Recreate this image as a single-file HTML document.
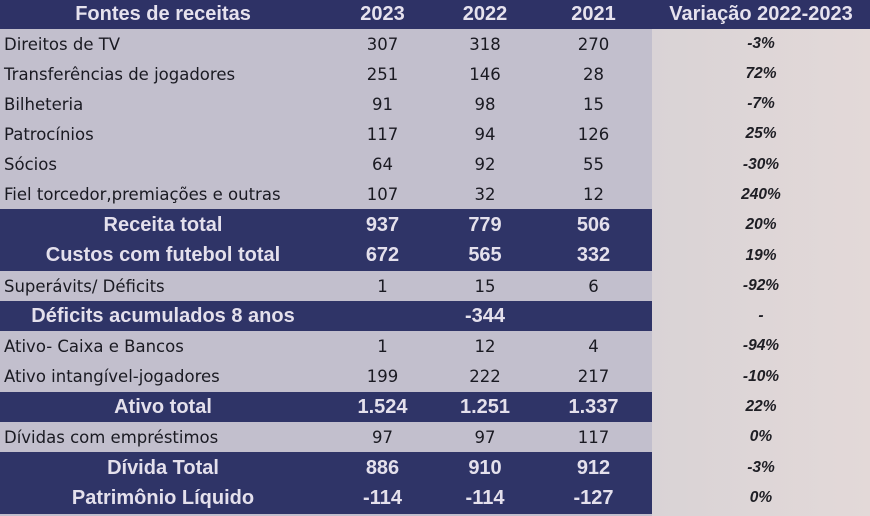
<!DOCTYPE html>
<html><head><meta charset="utf-8"><style>
*{margin:0;padding:0;box-sizing:border-box}
body{width:870px;height:516px;overflow:hidden;background:#c2bfcd;font-family:"Liberation Sans","DejaVu Sans",sans-serif;position:relative}
.r{position:absolute;left:0;width:652px;display:flex;align-items:center}
.hd{background:#2e3266;color:#e6e2ee;font-weight:bold;font-size:20px}
.lt{background:#c2bfcd;color:#1a1a22;font-size:16.5px;font-family:"DejaVu Sans",sans-serif}
.dk{background:#2f3467;color:#e4e0ec;font-weight:bold;font-size:20px}
.c0{width:330px}.c1{width:105px;text-align:center}.c2{width:100px;text-align:center}.c3{width:117px;text-align:center}
.lt .c0{padding-left:4px}
.dk .c0,.hd .c0{text-align:center;padding-right:4px}
#var{position:absolute;left:652px;top:29px;width:218px;height:487px;background:linear-gradient(90deg,#d9d3d6,#e3d9d8)}
.v{position:absolute;left:652px;width:218px;text-align:center;font-style:italic;font-weight:bold;font-size:15.5px;color:#1e1e24}
#vh{position:absolute;left:652px;top:0;width:218px;height:29px;background:#2e3266;color:#e6e2ee;font-weight:bold;font-size:20px;text-align:center;line-height:29px}
</style></head><body>
<div id="var"></div>
<div id="vh">Variação 2022-2023</div>
<div class="r hd" style="top:0;height:29px"><div class="c0">Fontes de receitas</div><div class="c1">2023</div><div class="c2">2022</div><div class="c3">2021</div></div>
<div class="r lt" style="top:29px;height:31px"><div class="c0">Direitos de TV</div><div class="c1">307</div><div class="c2">318</div><div class="c3">270</div></div>
<div class="r lt" style="top:59px;height:31px"><div class="c0">Transferências de jogadores</div><div class="c1">251</div><div class="c2">146</div><div class="c3">28</div></div>
<div class="r lt" style="top:89px;height:31px"><div class="c0">Bilheteria</div><div class="c1">91</div><div class="c2">98</div><div class="c3">15</div></div>
<div class="r lt" style="top:119px;height:31px"><div class="c0">Patrocínios</div><div class="c1">117</div><div class="c2">94</div><div class="c3">126</div></div>
<div class="r lt" style="top:149px;height:31px"><div class="c0">Sócios</div><div class="c1">64</div><div class="c2">92</div><div class="c3">55</div></div>
<div class="r lt" style="top:179px;height:31px"><div class="c0">Fiel torcedor,premiações e outras</div><div class="c1">107</div><div class="c2">32</div><div class="c3">12</div></div>
<div class="r dk" style="top:209px;height:32px"><div class="c0">Receita total</div><div class="c1">937</div><div class="c2">779</div><div class="c3">506</div></div>
<div class="r dk" style="top:240px;height:31px"><div class="c0">Custos com futebol total</div><div class="c1">672</div><div class="c2">565</div><div class="c3">332</div></div>
<div class="r lt" style="top:271px;height:30px"><div class="c0">Superávits/ Déficits</div><div class="c1">1</div><div class="c2">15</div><div class="c3">6</div></div>
<div class="r dk" style="top:301px;height:30px"><div class="c0">Déficits acumulados 8 anos</div><div class="c1"></div><div class="c2">-344</div><div class="c3"></div></div>
<div class="r lt" style="top:331px;height:31px"><div class="c0">Ativo- Caixa e Bancos</div><div class="c1">1</div><div class="c2">12</div><div class="c3">4</div></div>
<div class="r lt" style="top:361px;height:31px"><div class="c0">Ativo intangível-jogadores</div><div class="c1">199</div><div class="c2">222</div><div class="c3">217</div></div>
<div class="r dk" style="top:392px;height:30px"><div class="c0">Ativo total</div><div class="c1">1.524</div><div class="c2">1.251</div><div class="c3">1.337</div></div>
<div class="r lt" style="top:422px;height:30px"><div class="c0">Dívidas com empréstimos</div><div class="c1">97</div><div class="c2">97</div><div class="c3">117</div></div>
<div class="r dk" style="top:452px;height:32px"><div class="c0">Dívida Total</div><div class="c1">886</div><div class="c2">910</div><div class="c3">912</div></div>
<div class="r dk" style="top:483px;height:31px"><div class="c0">Patrimônio Líquido</div><div class="c1">-114</div><div class="c2">-114</div><div class="c3">-127</div></div>
<div class="v" style="top:35px">-3%</div>
<div class="v" style="top:65px">72%</div>
<div class="v" style="top:95px">-7%</div>
<div class="v" style="top:125px">25%</div>
<div class="v" style="top:156px">-30%</div>
<div class="v" style="top:186px">240%</div>
<div class="v" style="top:216px">20%</div>
<div class="v" style="top:247px">19%</div>
<div class="v" style="top:277px">-92%</div>
<div class="v" style="top:307px">-</div>
<div class="v" style="top:337px">-94%</div>
<div class="v" style="top:368px">-10%</div>
<div class="v" style="top:398px">22%</div>
<div class="v" style="top:428px">0%</div>
<div class="v" style="top:459px">-3%</div>
<div class="v" style="top:489px">0%</div>
</body></html>
